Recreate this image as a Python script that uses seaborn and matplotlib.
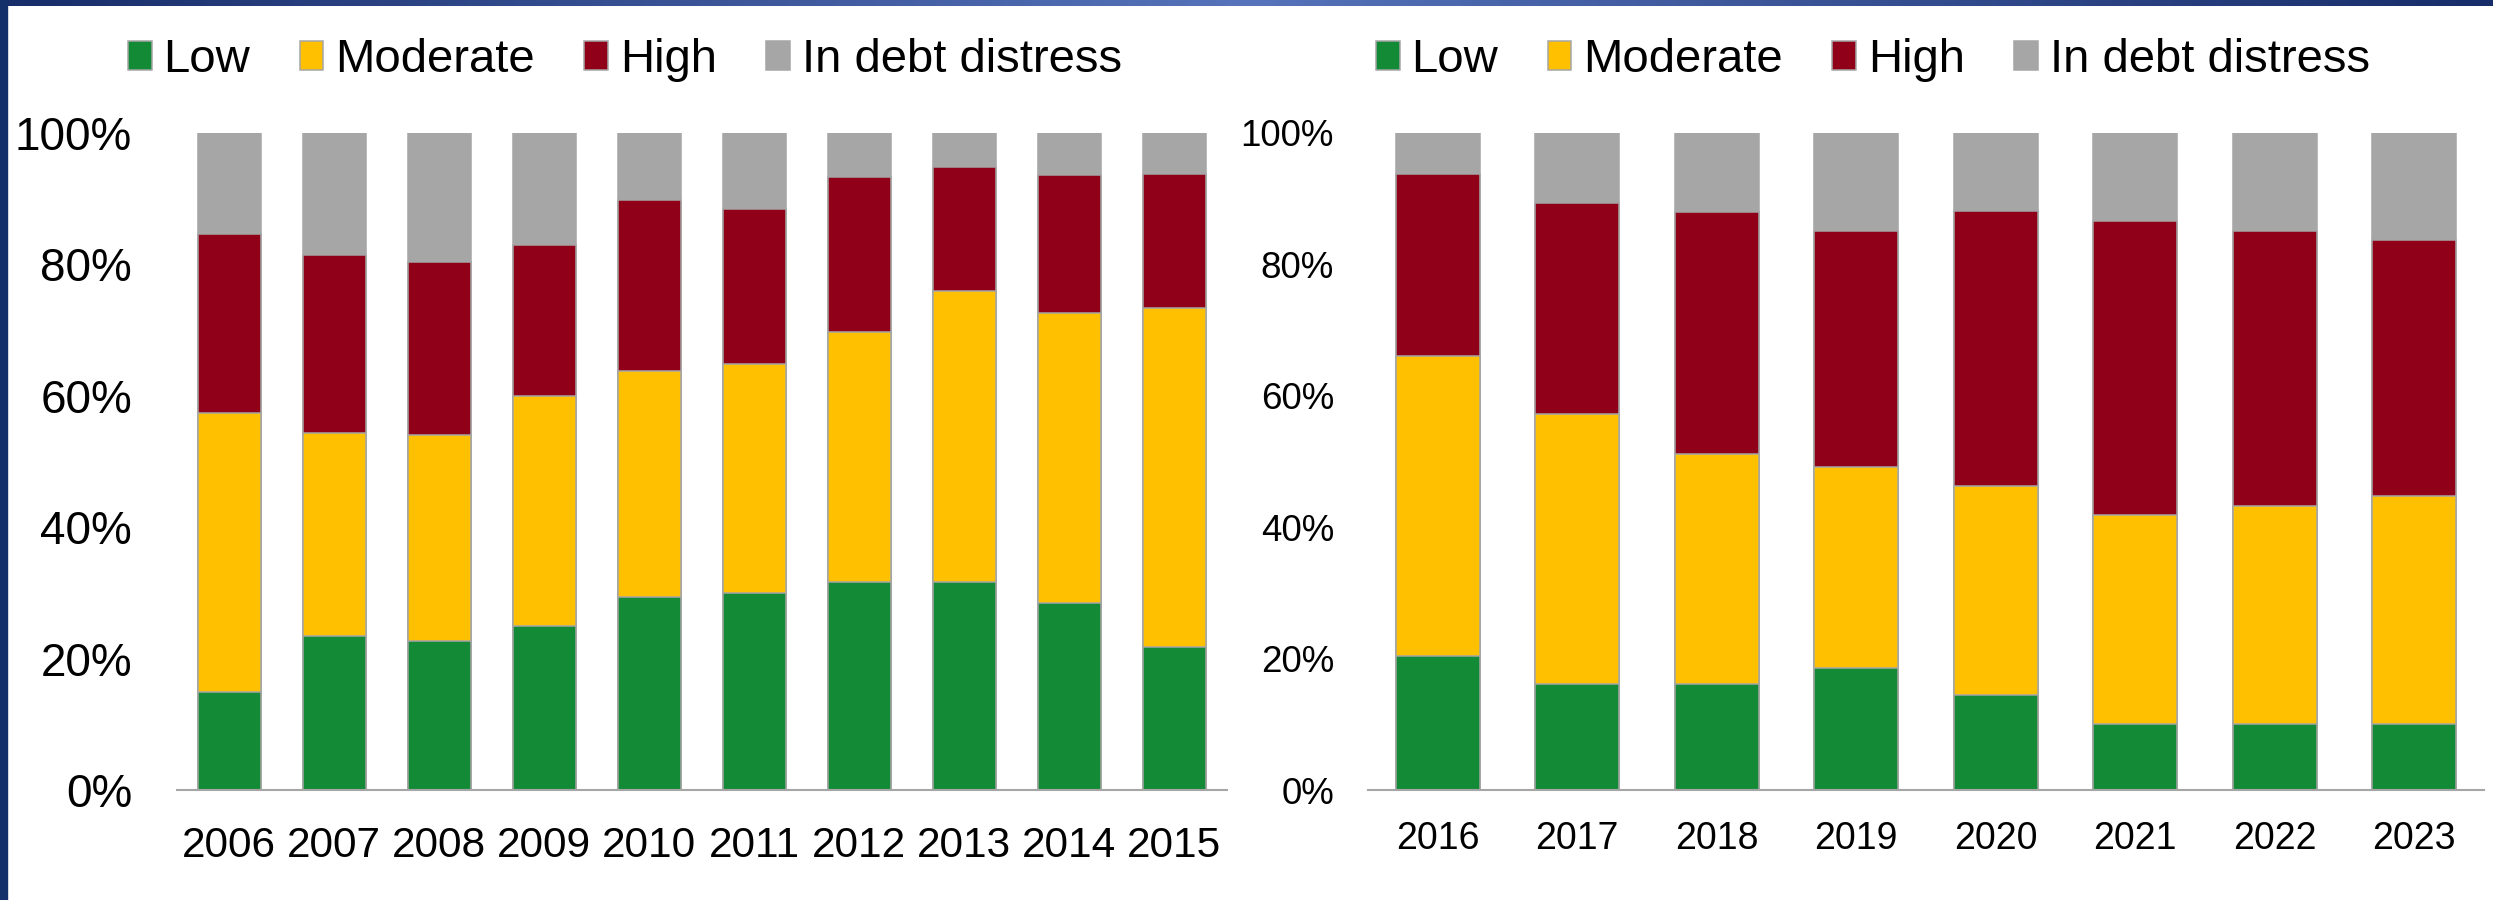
import matplotlib
matplotlib.use("Agg")
import matplotlib.pyplot as plt
import seaborn as sns
import pandas as pd
import numpy as np
from matplotlib.patches import Patch, Rectangle
from matplotlib.colors import LinearSegmentedColormap

# Share of countries by risk of debt distress (%)
categories = ["Low", "Moderate", "High", "In debt distress"]
colors = ["#138A36", "#FFC000", "#900018", "#A6A6A6"]

years_left = ["2006", "2007", "2008", "2009", "2010", "2011", "2012", "2013", "2014", "2015"]
low_left = [14.9, 23.4, 22.7, 25.0, 29.4, 30.0, 31.7, 31.7, 28.5, 21.8]
moderate_left = [42.5, 30.9, 31.4, 34.9, 34.4, 34.8, 38.0, 44.3, 44.1, 51.5]
high_left = [27.2, 27.1, 26.2, 23.0, 26.0, 23.6, 23.6, 18.9, 21.0, 20.5]
distress_left = [15.4, 18.6, 19.7, 17.1, 10.2, 11.6, 6.7, 5.1, 6.4, 6.2]

years_right = ["2016", "2017", "2018", "2019", "2020", "2021", "2022", "2023"]
low_right = [20.4, 16.1, 16.1, 18.6, 14.5, 10.0, 10.0, 10.0]
moderate_right = [45.7, 41.2, 35.1, 30.5, 31.8, 31.9, 33.3, 34.8]
high_right = [27.7, 32.1, 36.7, 36.0, 41.8, 44.7, 41.8, 38.9]
distress_right = [6.2, 10.6, 12.1, 14.9, 11.9, 13.4, 14.9, 16.3]

yticks = [0, 20, 40, 60, 80, 100]

sns.set_style("white")
plt.rcParams["font.family"] = ["Liberation Sans", "DejaVu Sans"]
plt.rcParams["text.color"] = "black"
plt.rcParams["xtick.color"] = "black"
plt.rcParams["ytick.color"] = "black"

W, H = 2493, 900
fig = plt.figure(figsize=(W / 100, H / 100), dpi=100)


def draw_panel(rect, years, series, ysize, xsize, ypad, xpad):
    ax = fig.add_axes(rect)
    df = pd.DataFrame({"Year": years})
    for name, vals in zip(categories, series):
        df[name] = vals
    cum = df[categories].cumsum(axis=1)
    # draw stacked bars from the top segment down
    for name, color in reversed(list(zip(categories, colors))):
        sns.barplot(x=df["Year"], y=cum[name], color=color, saturation=1,
                    width=0.6, edgecolor="#A6A6A6", linewidth=1.1, ax=ax)
    ax.set_ylim(0, 100)
    ax.set_xlim(-0.5, len(years) - 0.5)
    ax.set_yticks(yticks)
    ax.set_yticklabels([f"{t}%" for t in yticks])
    ax.set_xlabel("")
    ax.set_ylabel("")
    ax.tick_params(axis="y", length=0, labelsize=ysize, pad=ypad, labelcolor="black")
    ax.tick_params(axis="x", length=0, labelsize=xsize, pad=xpad, labelcolor="black")
    for s in ["top", "right", "left"]:
        ax.spines[s].set_visible(False)
    ax.spines["bottom"].set_color("#A6A6A6")
    ax.spines["bottom"].set_linewidth(1.5)
    ax.spines["bottom"].set_zorder(5)
    return ax


handles = [Patch(facecolor=c, edgecolor="#A6A6A6", linewidth=1.1) for c in colors]
legend_kw = dict(loc="center left", ncol=4, frameon=False, fontsize=34,
                 handlelength=0.5, handleheight=0.55, handletextpad=0.25,
                 columnspacing=1.05, borderpad=0, borderaxespad=0, labelcolor="black")

# left panel
draw_panel([176.5 / W, 110 / H, 1050 / W, 657 / H], years_left,
           [low_left, moderate_left, high_left, distress_left], 33, 30.5, 32, 26)
fig.legend(handles, categories, bbox_to_anchor=(128 / W, 1 - 60 / H), **legend_kw)

# right panel
draw_panel([1368 / W, 110 / H, 1116 / W, 657 / H], years_right,
           [low_right, moderate_right, high_right, distress_right], 26.5, 27, 24.5, 22)
fig.legend(handles, categories, bbox_to_anchor=(1376 / W, 1 - 60 / H), **legend_kw)

# slide frame: gradient bar on top, navy bar on the left
navy = "#172D69"
cmap = LinearSegmentedColormap.from_list("band", [navy, "#5673BB", navy])
band = fig.add_axes([0, 1 - 6 / H, 1, 6 / H])
band.imshow(np.linspace(0, 1, 256).reshape(1, -1), cmap=cmap, aspect="auto")
band.axis("off")
fig.add_artist(Rectangle((0, 0), 7 / W, 1, transform=fig.transFigure,
                         color="#13306B", zorder=10))

fig.savefig("out.png", dpi=100)
